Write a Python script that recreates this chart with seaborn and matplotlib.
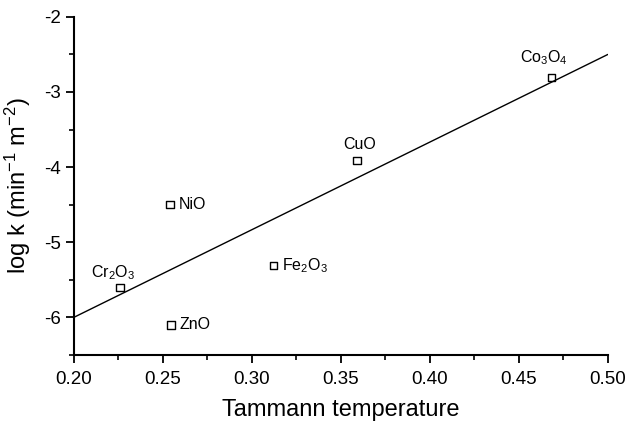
import matplotlib
matplotlib.use("Agg")
import matplotlib.pyplot as plt
from matplotlib.ticker import MultipleLocator, FormatStrFormatter
import seaborn as sns
import pandas as pd

# Data
oxides = ["Cr$_2$O$_3$", "NiO", "ZnO", "Fe$_2$O$_3$", "CuO", "Co$_3$O$_4$"]
tammann = [0.226, 0.254, 0.2545, 0.312, 0.359, 0.4685]
log_k = [-5.60, -4.50, -6.10, -5.31, -3.91, -2.81]
fit_x = [0.20, 0.50]
fit_y = [-6.0, -2.5]

sns.set_theme(style="ticks")
plt.rcParams["font.family"] = ["Liberation Sans", "DejaVu Sans"]
plt.rcParams["mathtext.default"] = "regular"
plt.rcParams["axes.unicode_minus"] = False
plt.rcParams["text.color"] = "black"
plt.rcParams["axes.labelcolor"] = "black"

fig = plt.figure(figsize=(6.26, 4.22), dpi=100)
ax = fig.add_axes([0.118, 0.159, 0.853, 0.801])

df = pd.DataFrame({"x": tammann, "y": log_k, "label": oxides})
fit = pd.DataFrame({"x": fit_x, "y": fit_y})

sns.lineplot(data=fit, x="x", y="y", ax=ax, color="black", linewidth=1.0)
sns.scatterplot(data=df, x="x", y="y", ax=ax, marker="s", s=28,
                facecolor="none", edgecolor="black", linewidth=1.0, zorder=3)

# label offsets (points)
offsets = {
    "Cr$_2$O$_3$": (-5, 4, "center", "bottom"),
    "NiO": (6, 0, "left", "center"),
    "ZnO": (6, 0, "left", "center"),
    "Fe$_2$O$_3$": (6, 0, "left", "center"),
    "CuO": (2, 6, "center", "bottom"),
    "Co$_3$O$_4$": (-6, 8, "center", "bottom"),
}
for xv, yv, lab in zip(tammann, log_k, oxides):
    dx, dy, ha, va = offsets[lab]
    ax.annotate(lab, (xv, yv), xytext=(dx, dy), textcoords="offset points",
                ha=ha, va=va, fontsize=11.5, color="black")

ax.set_xlim(0.20, 0.50)
ax.set_ylim(-6.5, -2.0)
ax.xaxis.set_major_locator(MultipleLocator(0.05))
ax.xaxis.set_minor_locator(MultipleLocator(0.025))
ax.yaxis.set_major_locator(MultipleLocator(1))
ax.yaxis.set_minor_locator(MultipleLocator(0.5))
ax.xaxis.set_major_formatter(FormatStrFormatter("%.2f"))
ax.yaxis.set_major_formatter(FormatStrFormatter("%d"))

ax.tick_params(which="major", direction="out", length=5.5, width=1.3,
               labelsize=13.5, colors="black", pad=6)
ax.tick_params(axis="y", which="major", pad=3.5)
ax.tick_params(which="minor", direction="out", length=3.5, width=1.2, colors="black")

for side in ["top", "right"]:
    ax.spines[side].set_visible(False)
for side in ["left", "bottom"]:
    ax.spines[side].set_linewidth(1.5)
    ax.spines[side].set_color("black")

ax.set_xlabel("Tammann temperature", fontsize=17, labelpad=8)
ax.set_ylabel("log k (min$^{-1}$ m$^{-2}$)", fontsize=17, labelpad=8)

fig.savefig("out.png", dpi=100)
